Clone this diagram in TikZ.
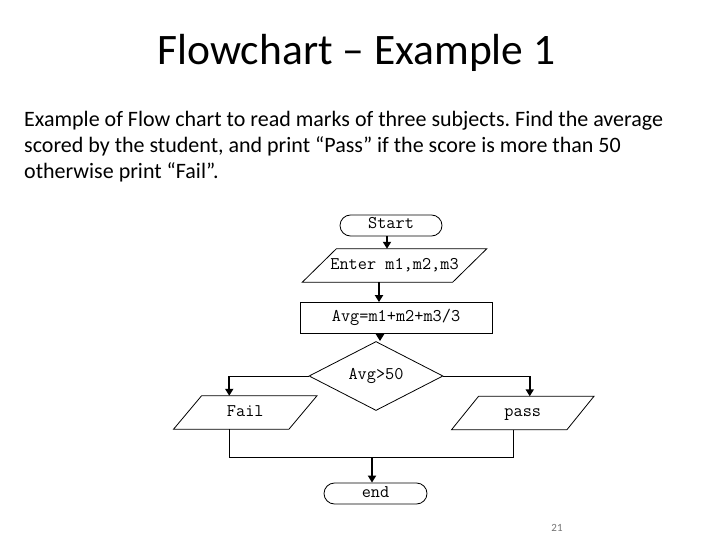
\documentclass[tikz,border=0pt]{standalone}
\usepackage{fontspec}
\setmainfont{Carlito}
\usetikzlibrary{shapes.geometric,shapes.misc,arrows.meta,calc}
\newcommand\drawpara[2]{\draw[shp] ($(#1.north west)+(#2,0)$) -- ($(#1.north east)+(#2,0)$) -- ($(#1.south east)+(-#2,0)$) -- ($(#1.south west)+(-#2,0)$) -- cycle;}
\frenchspacing
\begin{document}
\begin{tikzpicture}[x=1pt,y=-1pt,
  shp/.style={line width=0.8pt},
  mono/.style={font=\ttfamily\fontsize{17.8}{19}\selectfont, inner sep=0pt, text height=10.5pt, text depth=3.5pt},
  term/.style={mono, draw, shp, rounded rectangle, minimum width=102pt, minimum height=21pt},
  procbox/.style={mono, draw, shp, rectangle, minimum width=192pt, minimum height=31pt},
  iobox/.style={mono, rectangle, minimum width=#1, minimum height=33pt},
  decis/.style={mono, draw, shp, diamond, minimum width=134pt, minimum height=52pt},
  ln/.style={line width=0.8pt},
  arr/.style={line width=2.4pt, -{Triangle[width=8pt,length=7pt]}},
  body/.style={anchor=base west, inner sep=0pt, font=\fontsize{22}{26}\selectfont}
]
\useasboundingbox (0,0) rectangle (720,540);

\node[anchor=base, inner sep=0pt, font=\fontsize{43.5}{50}\selectfont] (title) at (356.5,65) {Flowchart – Example 1};
\node[body] (b1) at (24,127) {Example of Flow chart to read marks of three subjects. Find the average};
\node[body] (b2) at (24,153) {scored by the student, and print “Pass” if the score is more than 50};
\node[body] (b3) at (24,179) {otherwise print “Fail”.};

\node[term] (start) at (391,225.5) {Start};
\node[iobox=150pt] (enter) at (394.5,265.5) {Enter m1,m2,m3};
\drawpara{enter}{17}
\node[procbox] (avg) at (396,318) {Avg=m1+m2+m3/3};
\node[decis] (dia) at (376,376) {Avg>50};
\node[iobox=115pt] (fail) at (245.25,412.5) {Fail};
\drawpara{fail}{14}
\node[iobox=115pt] (pass) at (522.75,413) {pass};
\drawpara{pass}{13.5}
\node[term, minimum width=103pt] (end) at (375.5,493.5) {end};

\coordinate (c1) at ([xshift=-4pt]start.south);
\draw[arr] (c1) -- (c1 |- enter.north);
\coordinate (c2) at ([xshift=-15.5pt]enter.south);
\draw[arr] (c2) -- (c2 |- avg.north);
\coordinate (c3) at ([xshift=-16pt]avg.south);
\draw[arr] (c3) -- (c3 |- dia.north);

\coordinate (cf) at ([xshift=-16pt]fail.north);
\draw[ln] (dia.west) -- (dia.west -| cf);
\draw[arr] (dia.west -| cf) -- (cf);
\coordinate (cp) at ([xshift=7pt]pass.north);
\draw[ln] (dia.east) -- (dia.east -| cp);
\draw[arr] (dia.east -| cp) -- (cp);

\coordinate (fb) at ([xshift=-16pt]fail.south);
\coordinate (pb) at ([xshift=-9pt]pass.south);
\coordinate (jl) at ($(fb)+(0,28)$);
\coordinate (ce) at ([xshift=-3.5pt]end.north);
\draw[ln] (fb) -- (jl) -- (jl -| pb) -- (pb);
\draw[arr] (jl -| ce) -- (ce);

\node[inner sep=0pt, text=black!55, font=\fontsize{11}{13}\selectfont] (pg) at (557,528) {21};
\end{tikzpicture}
\end{document}
